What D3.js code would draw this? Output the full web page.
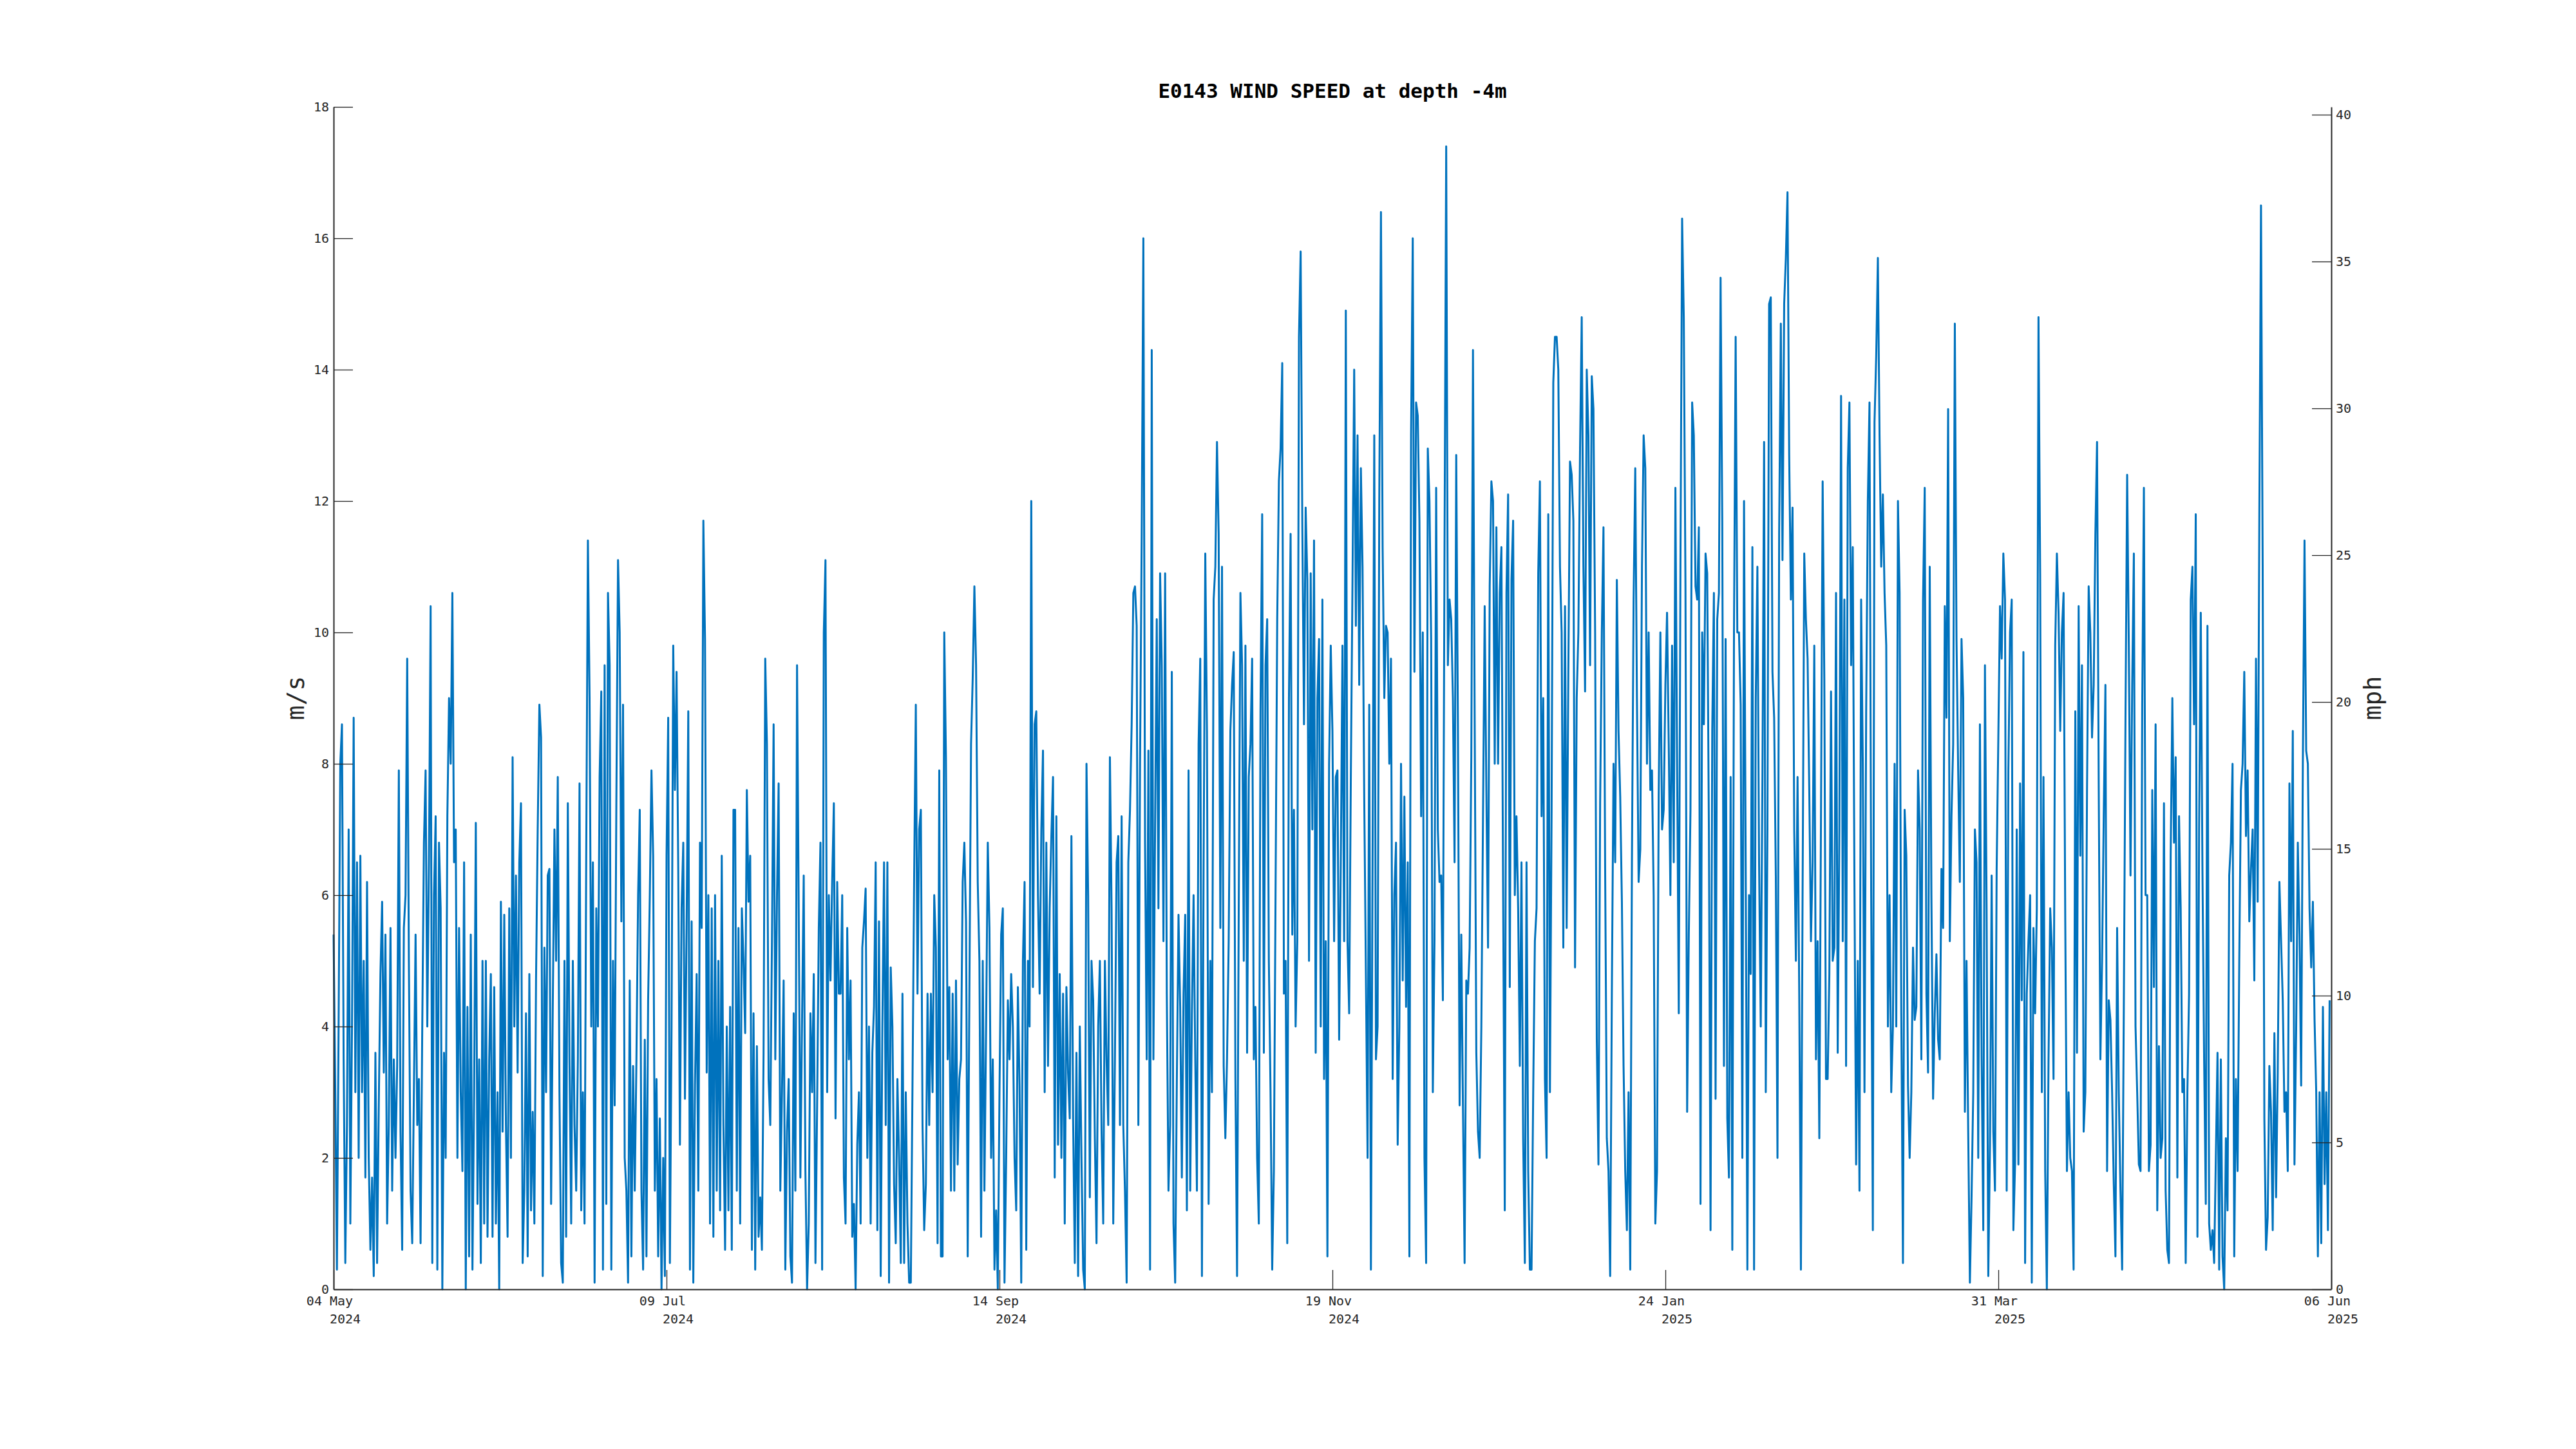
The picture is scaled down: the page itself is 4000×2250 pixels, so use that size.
<!DOCTYPE html>
<html>
<head>
<meta charset="utf-8">
<script src="https://cdn.jsdelivr.net/npm/d3@7"></script>
<style>
body { margin: 0; background: #fff; }
text { font-family: "DejaVu Sans Mono", monospace; fill: #262626; }
</style>
</head>
<body>
<svg id="chart" width="4000" height="2250"></svg>
<script>
"use strict";

// wind speed (m/s), one value every 8 hours from 04 May 2024 00:00 UTC
var startMs = Date.UTC(2024, 4, 4);
var endMs = Date.UTC(2025, 5, 6);
var stepHours = 8;

var speedMayJun = [
  5.4,3.0,0.3,4.0,8.0,8.6,3.5,0.4,2.5,7.0, 1.0,4.0,8.7,3.0,6.5,2.0,6.6,3.0,5.0,1.7,
  6.2,2.0,0.6,1.7,0.2,3.6,0.4,2.8,4.8,5.9, 3.3,5.4,1.0,2.5,5.5,1.5,3.5,2.0,3.4,7.9,
  2.4,0.6,5.5,6.0,9.6,5.0,1.5,0.7,3.0,5.4, 2.5,3.2,0.7,4.0,6.8,7.9,4.0,6.5,10.4,0.4,
  6.0,7.2,0.3,6.8,5.8,0.0,3.6,2.0,7.2,9.0, 8.0,10.6,6.5,7.0,2.0,5.5,3.0,1.8,6.5,0.0,
  4.3,0.5,5.4,0.3,3.0,7.1,1.3,3.5,0.4,5.0, 1.0,5.0,0.8,3.5,4.8,0.8,4.6,1.0,3.0,0.0,
  5.9,2.4,5.7,2.5,0.8,5.8,2.0,8.1,4.0,6.3, 3.3,6.5,7.4,0.4,1.5,4.2,0.5,4.8,1.2,2.7
];
var speedJunJul = [
  1.0,4.7,7.0,8.9,8.4,0.2,5.2,3.0,6.3,6.4, 1.3,4.3,7.0,5.0,7.8,3.0,0.4,0.1,5.0,0.8,
  7.4,3.5,1.0,5.0,2.5,1.5,3.5,7.7,1.2,3.0, 1.0,6.6,11.4,9.0,4.0,6.5,0.1,5.8,4.0,7.8,
  9.1,0.3,9.5,1.3,10.6,9.5,0.3,5.0,2.8,7.4, 11.1,10.0,5.6,8.9,2.0,1.5,0.1,4.7,0.5,3.4,
  1.5,3.5,6.0,7.3,1.5,0.3,3.8,0.5,4.4,6.0, 7.9,6.6,1.5,3.2,0.5,2.6,0.0,2.0,0.2,6.6,
  8.7,0.4,4.0,9.8,7.6,9.4,6.4,2.2,5.8,6.8, 2.9,5.5,8.8,0.3,5.6,0.1,3.1,4.8,1.5,6.8,
  5.5,11.7,9.9,3.3,6.0,1.0,5.8,0.8,6.0,1.5, 5.0,1.2,6.6,2.5,0.6,4.0,1.2,4.3,0.6,7.3
];
var speedJulSep = [
  7.3,1.5,5.5,1.0,5.8,5.0,3.9,7.6,5.9,6.6, 0.6,4.2,0.3,3.7,0.8,1.4,0.6,3.6,9.6,8.3,
  3.2,2.5,5.3,8.6,3.5,6.0,7.7,1.5,3.0,4.7, 0.3,2.4,3.2,0.5,0.1,4.2,1.5,9.5,5.8,1.7,
  4.1,6.3,1.8,0.0,1.0,4.2,3.0,4.8,0.4,2.8, 5.5,6.8,0.3,10.0,11.1,3.0,6.0,4.7,6.2,7.4,
  2.6,6.2,4.5,4.5,6.0,1.7,1.0,5.5,3.5,4.7, 0.8,1.3,0.0,2.2,3.0,1.0,5.2,5.6,6.1,2.0,
  4.0,1.0,3.6,4.3,6.5,0.9,5.6,0.2,4.0,6.5, 2.5,6.5,0.1,4.9,4.0,1.6,0.7,3.2,2.0,0.4,
  4.5,0.4,3.0,1.0,0.1,0.1,3.1,6.3,8.9,4.5, 7.0,7.3,2.5,0.9,1.6,4.5,2.5,4.5,3.0,6.0
];
var speedSepOct = [
  5.2,0.7,7.9,0.5,0.5,10.0,8.1,3.5,4.6,1.5, 4.5,1.5,4.7,1.9,3.2,3.5,6.2,6.8,5.6,0.5,
  4.5,8.3,9.3,10.7,9.5,6.2,5.0,0.8,5.0,1.5, 4.0,6.8,5.5,2.0,3.5,0.3,1.2,0.0,3.0,5.4,
  5.8,0.1,2.0,4.4,3.5,4.8,4.0,2.0,1.2,4.6, 3.1,0.1,5.0,6.2,0.6,5.0,4.0,12.0,4.6,8.6,
  8.8,6.0,4.5,7.0,8.2,3.0,6.8,3.4,5.8,6.9, 7.8,1.7,7.2,2.2,4.8,2.0,4.5,1.0,4.6,3.3,
  2.6,6.9,2.6,0.4,3.6,0.2,4.0,2.0,0.3,0.0, 8.0,6.0,1.4,5.0,4.4,2.3,0.7,4.0,5.0,2.4,
  1.0,5.0,3.5,2.5,8.1,5.8,1.0,3.5,6.5,6.9, 2.5,7.2,2.5,1.5,0.1,6.5,7.3,8.6,10.6,10.7
];
var speedOctNov = [
  10.1,2.5,8.0,11.5,16.0,6.8,3.5,8.2,0.3,14.3, 3.5,7.0,10.2,5.8,10.9,9.5,5.3,10.9,4.5,1.5,
  2.5,9.4,1.0,0.1,3.2,5.7,4.3,1.7,4.5,5.7, 1.2,7.9,1.5,4.2,6.0,3.5,1.5,8.3,9.6,0.2,
  6.5,11.2,8.5,1.3,5.0,3.0,10.5,11.0,12.9,11.5, 5.5,11.0,3.4,2.3,3.5,5.3,8.5,9.2,9.7,3.2,
  0.2,5.8,10.6,9.5,5.0,9.8,3.6,7.8,8.3,9.6, 3.5,4.3,2.0,1.0,8.8,11.8,3.6,9.5,10.2,5.0,
  3.0,0.3,1.8,6.0,10.2,12.3,12.8,14.1,4.5,5.0, 0.7,9.0,11.5,5.4,7.3,4.0,5.3,14.5,15.8,11.6,
  8.6,11.9,10.8,5.0,10.9,7.0,11.4,3.6,9.0,9.9, 4.0,10.5,3.2,5.3,0.5,8.0,9.8,8.5,5.3,7.8
];
var speedNovDec = [
  7.9,3.8,6.5,9.8,5.3,14.9,5.3,4.2,7.8,10.8, 14.0,10.1,13.0,9.2,12.5,11.0,7.5,4.8,2.0,8.9,
  0.3,6.5,13.0,3.5,4.0,12.0,16.4,11.3,9.0,10.1, 10.0,8.0,9.6,3.2,6.0,6.8,2.2,4.0,8.0,4.7,
  7.5,4.3,6.5,0.5,13.0,16.0,9.4,13.5,13.3,11.7, 7.2,10.0,2.0,0.4,12.8,12.0,9.9,3.0,5.3,12.2,
  7.0,6.2,6.3,4.4,11.3,17.4,9.5,10.5,10.2,9.0, 6.5,12.7,8.6,2.8,5.4,2.8,0.4,4.7,4.5,5.2,
  8.1,14.3,8.8,3.6,2.4,2.0,4.0,7.2,10.4,7.6, 5.2,10.7,12.3,12.0,8.0,11.6,8.0,10.6,11.3,6.2,
  1.2,10.6,12.1,4.6,10.8,11.7,6.0,7.2,5.8,3.4, 6.5,2.3,0.4,6.5,1.8,0.3,0.3,3.0,5.3,5.8
];
var speedDecFeb = [
  10.9,12.3,7.2,9.0,3.2,2.0,11.8,3.0,7.3,13.8, 14.5,14.5,14.0,11.0,10.0,5.2,10.4,5.5,9.4,12.6,
  12.4,11.7,4.9,9.0,10.0,12.8,14.8,11.0,9.1,14.0, 13.0,9.5,13.9,13.4,10.0,3.8,1.9,7.4,10.0,11.6,
  6.4,2.3,1.8,0.2,4.5,8.0,6.5,10.8,8.5,7.5, 5.9,3.4,1.8,0.9,3.0,0.3,6.5,10.5,12.5,9.0,
  6.2,6.7,11.0,13.0,12.5,8.0,10.0,7.6,7.9,6.0, 1.0,1.8,7.5,10.0,7.0,7.3,9.2,10.3,8.3,6.0,
  9.8,6.5,12.2,8.0,4.2,11.0,16.3,14.8,10.7,2.7, 5.4,7.3,13.5,13.0,10.7,10.5,11.6,1.3,10.0,8.6,
  11.2,10.9,7.0,0.9,8.5,10.6,2.9,10.2,10.6,15.4, 11.7,3.4,9.9,2.6,1.7,7.8,0.6,10.0,14.5,10.0
];
var speedFebMar = [
  10.0,8.9,2.0,12.0,6.4,0.3,6.0,4.8,11.3,0.3, 9.0,11.0,6.5,4.0,7.8,12.9,3.0,7.0,15.0,15.1,
  9.4,8.7,6.3,2.0,11.5,14.7,11.1,15.0,15.7,16.7, 12.7,10.5,11.9,7.0,5.0,7.8,4.5,0.3,6.0,11.2,
  10.2,9.6,7.6,5.3,6.5,9.8,3.5,5.3,2.3,7.2, 12.3,9.3,3.2,3.2,4.8,9.1,5.0,5.2,10.6,3.6,
  7.0,13.6,5.3,10.5,3.4,12.5,13.5,9.5,11.3,6.2, 1.9,5.0,1.5,10.5,8.0,3.0,8.8,12.0,13.5,6.0,
  0.9,13.2,14.2,15.7,13.0,11.0,12.1,10.6,9.8,4.0, 6.0,3.0,4.0,8.0,4.0,12.0,10.6,4.2,0.4,7.3,
  6.6,3.1,2.0,3.0,5.2,4.1,4.3,7.9,7.0,3.5, 10.5,12.2,4.5,3.3,11.0,6.0,2.9,4.2,5.1,3.8
];
var speedMarApr = [
  3.5,6.4,5.5,10.4,8.7,13.4,5.3,7.2,8.3,14.7, 9.9,7.9,6.2,9.9,9.0,2.7,5.0,2.4,0.1,1.4,
  3.0,7.0,6.5,2.0,8.6,3.5,0.9,9.5,5.8,0.2, 2.2,6.3,2.4,1.5,6.4,8.4,10.4,9.6,11.2,10.5,
  1.5,7.9,10.0,10.5,0.9,1.9,7.0,1.9,7.7,4.4, 9.7,0.4,4.5,5.3,6.0,0.1,5.5,4.2,5.8,14.8,
  10.9,3.0,7.8,1.8,0.0,3.5,5.8,5.2,3.2,9.8, 11.2,10.3,8.5,10.0,10.6,5.6,1.8,3.0,2.0,1.8,
  0.3,8.8,3.6,10.4,6.6,9.5,2.4,3.0,7.6,10.7, 10.0,8.4,9.2,11.5,12.9,7.7,3.5,5.0,7.2,9.2,
  1.8,4.4,4.1,3.0,1.6,0.5,5.5,3.0,1.5,0.3, 4.3,8.7,12.4,9.8,6.3,9.2,11.2,4.0,3.0,1.9
];
var speedAprJun = [
  1.8,8.9,12.2,6.0,6.0,1.8,2.2,7.6,4.6,8.6, 1.2,3.7,2.0,2.3,7.4,1.5,0.6,0.4,6.6,9.0,
  6.8,8.1,1.7,7.2,5.8,3.0,3.2,0.4,3.0,4.5, 10.5,11.0,8.6,11.8,0.8,7.0,10.3,6.4,3.5,1.3,
  10.1,1.0,0.6,0.9,0.4,2.0,3.6,0.3,3.5,0.5, 0.0,2.3,1.2,6.3,6.8,8.0,0.5,3.2,1.8,5.0,
  7.6,8.0,9.4,6.9,7.9,5.6,6.4,7.0,4.7,9.6, 5.9,11.8,16.5,11.0,2.6,0.6,1.1,3.4,2.7,0.9,
  3.9,1.4,3.3,6.2,5.3,4.4,2.7,3.0,1.8,7.7, 5.3,8.5,1.9,3.9,6.8,5.4,3.1,8.0,11.4,8.2,
  8.0,5.8,4.9,5.9,4.1,3.0,0.5,3.0,0.7,4.3, 1.6,3.0,0.9,4.4
];

var tickDays = ["04 May", "09 Jul", "14 Sep", "19 Nov", "24 Jan", "31 Mar", "06 Jun"];
var tickYears = ["2024", "2024", "2024", "2024", "2025", "2025", "2025"];
var msTicks = [0, 2, 4, 6, 8, 10, 12, 14, 16, 18];
var mphTicks = [0, 5, 10, 15, 20, 25, 30, 35, 40];
var MS_TO_MPH = 2.23694;

var speed = [].concat(speedMayJun, speedJunJul, speedJulSep, speedSepOct, speedOctNov,
  speedNovDec, speedDecFeb, speedFebMar, speedMarApr, speedAprJun);

var plotLeft = 518, plotRight = 3620, plotTop = 166, plotBottom = 2002;
var fontSize = 20;
var charW = fontSize * 0.602;

var svg = d3.select('#chart');
svg.append('rect').attr('width', 4000).attr('height', 2250).attr('fill', '#fff');

var x = d3.scaleUtc().domain([new Date(startMs), new Date(endMs)]).range([plotLeft, plotRight]);
var y = d3.scaleLinear().domain([0, 18]).range([plotBottom, plotTop]);
var y2 = d3.scaleLinear().domain([0, 18 * MS_TO_MPH]).range([plotBottom, plotTop]);

var line = d3.line()
  .x(function (d, i) { return x(new Date(startMs + i * stepHours * 3600e3)); })
  .y(function (d) { return y(d); });

svg.append('path')
  .datum(speed)
  .attr('d', line)
  .attr('fill', 'none')
  .attr('stroke', '#0072BD')
  .attr('stroke-width', 3)
  .attr('stroke-linejoin', 'round');

function styleAxis(g) {
  g.select('.domain').attr('stroke', '#262626').attr('stroke-width', 2);
  g.selectAll('.tick line').attr('stroke', '#262626').attr('stroke-width', 1.3);
  g.selectAll('.tick text')
    .attr('font-family', '"DejaVu Sans Mono", monospace')
    .attr('font-size', fontSize)
    .attr('fill', '#262626');
}

svg.append('g')
  .attr('transform', 'translate(' + plotLeft + ',0)')
  .call(d3.axisLeft(y).tickValues(msTicks).tickSize(-30).tickSizeOuter(0).tickPadding(7))
  .call(styleAxis);

svg.append('g')
  .attr('transform', 'translate(' + plotRight + ',0)')
  .call(d3.axisRight(y2).tickValues(mphTicks).tickSize(-30).tickSizeOuter(0).tickPadding(7))
  .call(styleAxis);

var tickDates = tickDays.map(function (d, i) {
  return new Date(startMs + i * (endMs - startMs) / 6);
});

svg.append('g')
  .attr('transform', 'translate(0,' + plotBottom + ')')
  .call(d3.axisBottom(x).tickValues(tickDates).tickSize(-30).tickSizeOuter(0).tickFormat(''))
  .call(styleAxis);

var labels = svg.append('g').attr('font-size', fontSize);
tickDates.forEach(function (d, i) {
  labels.append('text')
    .attr('x', x(d) - 0.5 * charW)
    .attr('y', plotBottom + 25)
    .attr('text-anchor', 'middle')
    .text(tickDays[i]);
  labels.append('text')
    .attr('x', x(d) + 1.5 * charW)
    .attr('y', plotBottom + 53)
    .attr('text-anchor', 'middle')
    .text(tickYears[i]);
});

svg.append('text')
  .attr('x', (plotLeft + plotRight) / 2)
  .attr('y', 152)
  .attr('text-anchor', 'middle')
  .attr('font-size', 31)
  .attr('font-weight', 'bold')
  .style('fill', '#000')
  .text('E0143 WIND SPEED at depth -4m');

svg.append('text')
  .attr('transform', 'translate(459,' + (plotTop + plotBottom) / 2 + ') rotate(-90)')
  .attr('text-anchor', 'middle')
  .attr('dominant-baseline', 'central')
  .attr('font-size', 38)
  .text('m/s');

svg.append('text')
  .attr('transform', 'translate(3684,' + (plotTop + plotBottom) / 2 + ') rotate(-90)')
  .attr('text-anchor', 'middle')
  .attr('dominant-baseline', 'central')
  .attr('font-size', 38)
  .text('mph');
</script>
</body>
</html>
